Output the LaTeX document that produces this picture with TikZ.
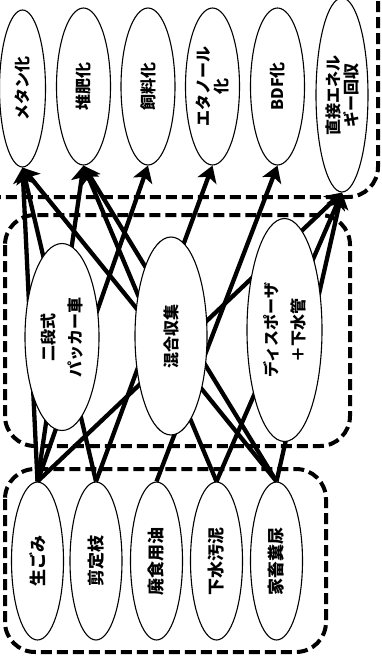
\documentclass[tikz,border=0pt]{standalone}
\usepackage{fontspec}
\setmainfont{Noto Sans CJK JP}
\usetikzlibrary{shapes.geometric,arrows.meta}
\begin{document}
\begin{tikzpicture}[x=1pt,y=-1pt,
  blob/.style={ellipse, draw, line width=1.1pt, fill=white, inner sep=0pt, rotate=90, align=center},
  topnode/.style={blob, minimum width=157pt, minimum height=54pt, font=\fontsize{16}{18}\selectfont\bfseries},
  midnode/.style={blob, font=\fontsize{16}{27}\selectfont\bfseries},
  srcnode/.style={blob, minimum width=158pt, minimum height=52pt, font=\fontsize{17}{20}\selectfont\bfseries},
  flow/.style={line width=4.3pt, -{Stealth[length=16pt,width=20pt,inset=4pt]}},
  group/.style={draw, line width=4pt, dash pattern=on 11pt off 5pt, rounded corners=30pt}]
\useasboundingbox (0,0) rectangle (382,672);
% groups
\draw[group] (-40,-40) rectangle (378,197);
\draw[group] (5,215) rectangle (350,446);
\draw[group] (5,469) rectangle (326,652);
% conversion
\node[topnode, minimum height=46pt] (T1) at (22.5,88.5) {メタン化};
\node[topnode] (T2) at (83.5,86.5) {堆肥化};
\node[topnode] (T3) at (148,86.5) {飼料化};
\node[topnode] (T4) at (212.5,86.5) {エタノール\\化};
\node[topnode] (T5) at (277.5,86.5) {BDF化};
\node[topnode, minimum width=194pt, minimum height=52pt] (T6) at (342,95) {直接エネル\\ギー回収};
% sources
\node[srcnode] (B1) at (37.5,561) {生ごみ};
\node[srcnode] (B2) at (96,561) {剪定枝};
\node[srcnode] (B3) at (156.5,561) {廃食用油};
\node[srcnode] (B4) at (216.5,561) {下水汚泥};
\node[srcnode] (B5) at (276.5,561) {家畜糞尿};
% flows
\draw[flow] (B1.east) -- (T1.west);
\draw[flow] (B1.east) -- (T2.west);
\draw[flow] (B1.east) -- (T3.west);
\draw[flow] (B1.east) -- (T6.west);
\draw[flow] (B2.east) -- (T1.west);
\draw[flow] (B2.east) -- (T4.west);
\draw[flow] (B3.east) -- (T5.west);
\draw[flow] (B4.east) -- (T2.west);
\draw[flow] (B4.east) -- (T6.west);
\draw[flow] (B5.east) -- (T1.west);
\draw[flow] (B5.east) -- (T2.west);
\draw[flow] (B5.east) -- (T6.west);
% collection
\node[midnode, minimum width=187pt, minimum height=74pt] (M1) at (62,337) {二段式\\パッカー車};
\node[midnode, minimum width=198pt, minimum height=72pt] (M2) at (171,336) {混合収集};
\node[midnode, minimum width=223pt, minimum height=75pt] (M3) at (284.5,330) {ディスポーザ\\＋下水管};
\end{tikzpicture}
\end{document}
